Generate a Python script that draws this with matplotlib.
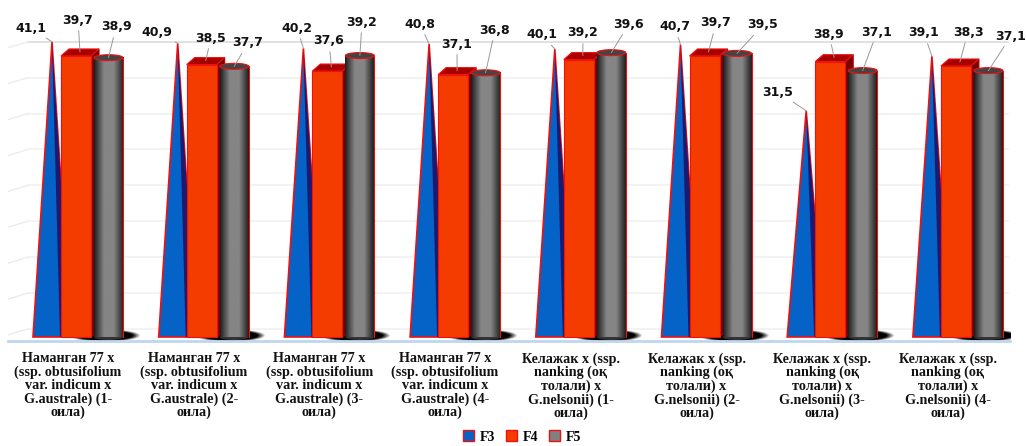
import numpy as np
import matplotlib
matplotlib.use('Agg')
import matplotlib.pyplot as plt
from matplotlib.patches import Ellipse, Patch, Polygon, Rectangle

names = ['Наманган 77 х\n(ssp. obtusifolium\nvar. indicum х\nG.australe) (1-\nоила)',
         'Наманган 77 х\n(ssp. obtusifolium\nvar. indicum х\nG.australe) (2-\nоила)',
         'Наманган 77 х\n(ssp. obtusifolium\nvar. indicum х\nG.australe) (3-\nоила)',
         'Наманган 77 х\n(ssp. obtusifolium\nvar. indicum х\nG.australe) (4-\nоила)',
         'Келажак х (ssp.\nnanking (оқ\nтолали) х\nG.nelsonii) (1-\nоила)',
         'Келажак х (ssp.\nnanking (оқ\nтолали) х\nG.nelsonii) (2-\nоила)',
         'Келажак х (ssp.\nnanking (оқ\nтолали) х\nG.nelsonii) (3-\nоила)',
         'Келажак х (ssp.\nnanking (оқ\nтолали) х\nG.nelsonii) (4-\nоила)']
f3 = [41.1, 40.9, 40.2, 40.8, 40.1, 40.7, 31.5, 39.1]
f4 = [39.7, 38.5, 37.6, 37.1, 39.2, 39.7, 38.9, 38.3]
f5 = [38.9, 37.7, 39.2, 36.8, 39.6, 39.5, 37.1, 37.1]

# where the value labels sit, in image pixels
f3_pos = [(31, 28), (157, 32), (297, 28), (420, 24), (542, 35), (675, 27), (778, 92), (924, 33)]
f4_pos = [(78, 20), (211, 38), (329, 41), (457, 44), (583, 33), (716, 23), (829, 34), (968, 32)]
f5_pos = [(116, 27), (248, 43), (362, 22), (495, 30), (629, 24), (763, 25), (877, 32), (1011, 36)]

W, H = 1026, 446
SPACING = 125.7   # px per category
UNIT = 7.18       # px per value unit
BASE = 337        # baseline row in the image
X0 = 78           # centre of first category

fig = plt.figure(figsize=(W / 100, H / 100), dpi=100)
ax = fig.add_axes([8 / W, (H - 341) / H, 1002 / W, 341 / H])

def dx(px):
    return px / SPACING

def dy(px):
    return px / UNIT

RED = '#f01010'
BLUE = '#0563c8'
ORANGE = '#f43b00'
DARKRED = '#a80000'

# back wall, lifted up and to the right of the floor
for v in range(0, 45, 5):
    col = '#dcdcdc' if v == 40 else '#f1f1f1'
    ax.plot([-0.4, 7.4], [v + dy(8)] * 2, color=col, lw=1.2, zorder=1)
    ax.plot([dx(8 - X0), -0.4], [v + dy(2), v + dy(8)], color='#ececec', lw=1, zorder=1)

grad = np.clip((1 - np.abs(np.linspace(-1, 1, 64))) * 1.5, 0, 1)[None, :]
for i in range(8):
    c = i
    # shadow on the floor
    xx, yy = np.meshgrid(np.linspace(-1, 1, 80), np.linspace(-1, 1, 20))
    shade = np.zeros((20, 80, 4))
    shade[..., 3] = np.clip(2.5 * (1 - xx ** 2 - yy ** 2), 0, 1)
    ax.imshow(shade, extent=(c - dx(10), c + dx(62), dy(-5), dy(8)), aspect='auto', zorder=2)

    # F3 cone drawn as a flat triangle
    tip = c - dx(26)
    ax.add_patch(Polygon([(c - dx(45), 0), (tip, f3[i]), (c - dx(7), 0)], fc=BLUE, ec=RED, lw=1.2, zorder=3))
    ax.add_patch(Polygon([(tip, f3[i]), (c - dx(18), 0), (c - dx(7), 0)], fc='#1a1a70', ec='none', zorder=3))

    # F4 box, the value falls midway between its front and back top edges
    front = f4[i] - dy(4)
    back = f4[i] + dy(3)
    ax.add_patch(Polygon([(c + dx(13), 0), (c + dx(21), dy(7)), (c + dx(21), back), (c + dx(13), front)],
                         fc='#7a0000', ec=DARKRED, lw=0.8, zorder=4))
    ax.add_patch(Polygon([(c - dx(17), front), (c - dx(9), back), (c + dx(21), back), (c + dx(13), front)],
                         fc=DARKRED, ec=RED, lw=0.8, zorder=4))
    ax.add_patch(Rectangle((c - dx(17), 0), dx(30), front, fc=ORANGE, ec=RED, lw=0.8, zorder=5))

    # F5 cylinder
    left, right = c + dx(16), c + dx(45)
    mid = (left + right) / 2
    ax.add_patch(Ellipse((mid, 0), right - left, dy(6), fc='#333333', ec='none', zorder=6))
    ax.imshow(grad, cmap='gray', vmin=-0.3, vmax=2.2, extent=(left, right, 0, f5[i]), aspect='auto', zorder=6)
    ax.plot([right, right], [0, f5[i]], color=RED, lw=0.8, zorder=6)
    ax.add_patch(Ellipse((mid, f5[i]), right - left, dy(6), fc='#444444', ec=RED, lw=0.8, zorder=7))

    # value labels with leader lines
    for val, pos, xp in [(f3[i], f3_pos[i], tip),
                         (f4[i], f4_pos[i], c + dx(2)),
                         (f5[i], f5_pos[i], mid)]:
        ax.annotate(str(val).replace('.', ','), xy=(xp, val),
                    xytext=(pos[0], H - pos[1]), textcoords='figure pixels',
                    ha='center', va='center', fontsize=9, fontweight='bold', color='#111111',
                    arrowprops=dict(arrowstyle='-', color='#999999', lw=0.7, shrinkA=1, shrinkB=0),
                    zorder=9, annotation_clip=False)

ax.set_xlim((8 - X0) / SPACING, (1010 - X0) / SPACING)
ax.set_ylim(-4 / UNIT, BASE / UNIT)

for side in ['top', 'left', 'right']:
    ax.spines[side].set_visible(False)
ax.spines['bottom'].set_color('#bdd7ee')
ax.spines['bottom'].set_linewidth(2)
ax.set_yticks([])
ax.set_xticks(np.arange(8) - dx(10))
ax.set_xticklabels(names, family='Liberation Serif', fontweight='bold', fontsize=10.2,
                   linespacing=1.02, color='#111111')
ax.tick_params(axis='x', length=0, pad=8)

handles = [Patch(fc=BLUE, ec=RED), Patch(fc=ORANGE, ec=RED), Patch(fc='#808080', ec=RED)]
fig.legend(handles, ['F3', 'F4', 'F5'], loc='center', bbox_to_anchor=(522 / W, (H - 437) / H), ncol=3,
           frameon=False, handlelength=0.8, handleheight=0.8, handletextpad=0.4, columnspacing=0.8,
           prop={'family': 'Liberation Serif', 'weight': 'bold', 'size': 10})

fig.savefig('out.png', dpi=100)
